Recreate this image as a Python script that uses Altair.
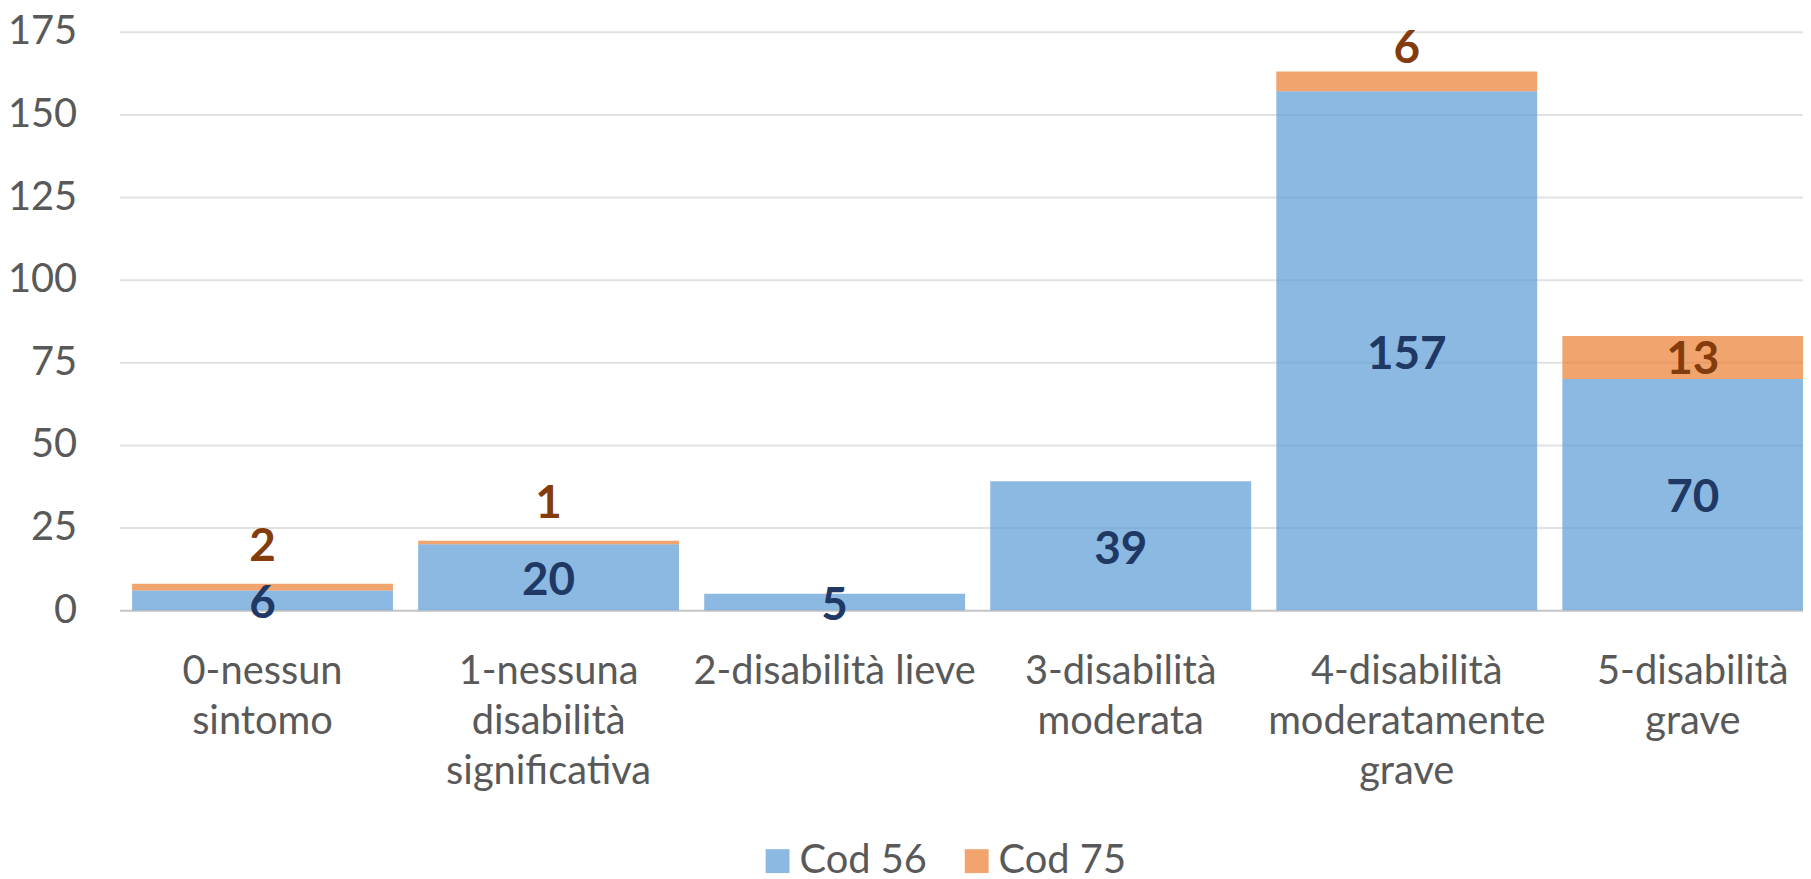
import json
import altair as alt
import pandas as pd

categories = [
    "0-nessun sintomo",
    "1-nessuna disabilità significativa",
    "2-disabilità lieve",
    "3-disabilità moderata",
    "4-disabilità moderatamente grave",
    "5-disabilità grave",
]
tick_lines = [
    ["0-nessun", "sintomo"],
    ["1-nessuna", "disabilità", "significativa"],
    ["2-disabilità lieve"],
    ["3-disabilità", "moderata"],
    ["4-disabilità", "moderatamente", "grave"],
    ["5-disabilità", "grave"],
]
series_names = ["Cod 56", "Cod 75"]
cod56 = [6, 20, 5, 39, 157, 70]
cod75 = [2, 1, 0, 0, 6, 13]
y_ticks = [0, 25, 50, 75, 100, 125, 150, 175]

rows = []
for c, a, b in zip(categories, cod56, cod75):
    rows.append({"category": c, "series": "Cod 56", "value": a})
    rows.append({"category": c, "series": "Cod 75", "value": b})
df = pd.DataFrame(rows)

FONT = "Lato"
label_map = json.dumps(dict(zip(categories, tick_lines)), ensure_ascii=False)

x_enc = alt.X(
    "category:N",
    sort=categories,
    scale=alt.Scale(range=[0, 1724], paddingInner=0.088, paddingOuter=0.044),
    axis=alt.Axis(
        title=None,
        grid=False,
        ticks=False,
        tickSize=0,
        domain=True,
        domainColor="#C8C8C8",
        domainWidth=2,
        labelAngle=0,
        labelAlign="center",
        labelBaseline="top",
        labelPadding=42,
        labelFont=FONT,
        labelFontSize=40,
        labelColor="#595959",
        labelLineHeight=50,
        labelLimit=600,
        labelOverlap=False,
        labelExpr="(" + label_map + ")[datum.label]",
    ),
)

y_scale = alt.Scale(domain=[0, 175], nice=False)

bars = alt.Chart(df).mark_bar(opacity=0.7).encode(
    x=x_enc,
    y=alt.Y(
        "value:Q",
        stack="zero",
        scale=y_scale,
        axis=alt.Axis(
            title=None,
            values=y_ticks,
            grid=True,
            gridColor="#E2E2E2",
            gridWidth=2,
            domain=False,
            ticks=False,
            tickSize=0,
            labelFont=FONT,
            labelFontSize=40,
            labelColor="#595959",
            labelPadding=43,
        ),
    ),
    color=alt.Color(
        "series:N",
        scale=alt.Scale(domain=series_names, range=["#5B9BD5", "#ED7D31"]),
        legend=alt.Legend(
            title=None,
            orient="none",
            direction="horizontal",
            legendX=641,
            legendY=813,
            symbolType="square",
            symbolSize=576,
            symbolStrokeWidth=0,
            labelFont=FONT,
            labelFontSize=40,
            labelColor="#595959",
            labelOffset=2,
            columnPadding=29,
            padding=0,
        ),
    ),
    order=alt.Order("series:N", sort="ascending"),
)

stacked = alt.Chart(df).transform_stack(
    stack="value",
    groupby=["category"],
    as_=["v0", "v1"],
    sort=[alt.SortField("series", order="ascending")],
).transform_calculate(mid="(datum.v0 + datum.v1) / 2")

text_common = dict(font=FONT, fontSize=46, fontWeight="bold", align="center", baseline="middle")

blue_labels = stacked.transform_filter(
    "datum.series == 'Cod 56' && datum.value > 0"
).mark_text(color="#203864", dy=4, **text_common).encode(
    x=alt.X("category:N", sort=categories),
    y=alt.Y("mid:Q", scale=y_scale),
    text="value:Q",
)

orange_center = stacked.transform_filter(
    "datum.series == 'Cod 75' && datum.value >= 10"
).mark_text(color="#843C0C", dy=3, **text_common).encode(
    x=alt.X("category:N", sort=categories),
    y=alt.Y("mid:Q", scale=y_scale),
    text="value:Q",
)

orange_tiny = stacked.transform_filter(
    "datum.series == 'Cod 75' && datum.value > 0 && datum.value < 3"
).mark_text(color="#843C0C", dy=-37, **text_common).encode(
    x=alt.X("category:N", sort=categories),
    y=alt.Y("v1:Q", scale=y_scale),
    text="value:Q",
)

orange_small = stacked.transform_filter(
    "datum.series == 'Cod 75' && datum.value >= 3 && datum.value < 10"
).mark_text(color="#843C0C", dy=-23, **text_common).encode(
    x=alt.X("category:N", sort=categories),
    y=alt.Y("v1:Q", scale=y_scale),
    text="value:Q",
)

chart = alt.layer(bars, blue_labels, orange_center, orange_tiny, orange_small).properties(
    width=1691,
    height=581,
    autosize=alt.AutoSizeParams(type="none"),
    padding={"left": 112, "top": 22, "right": 0, "bottom": 266},
    background="white",
).configure_view(stroke=None)

chart.save("out.html", embed_options={"renderer": "svg", "actions": False})
